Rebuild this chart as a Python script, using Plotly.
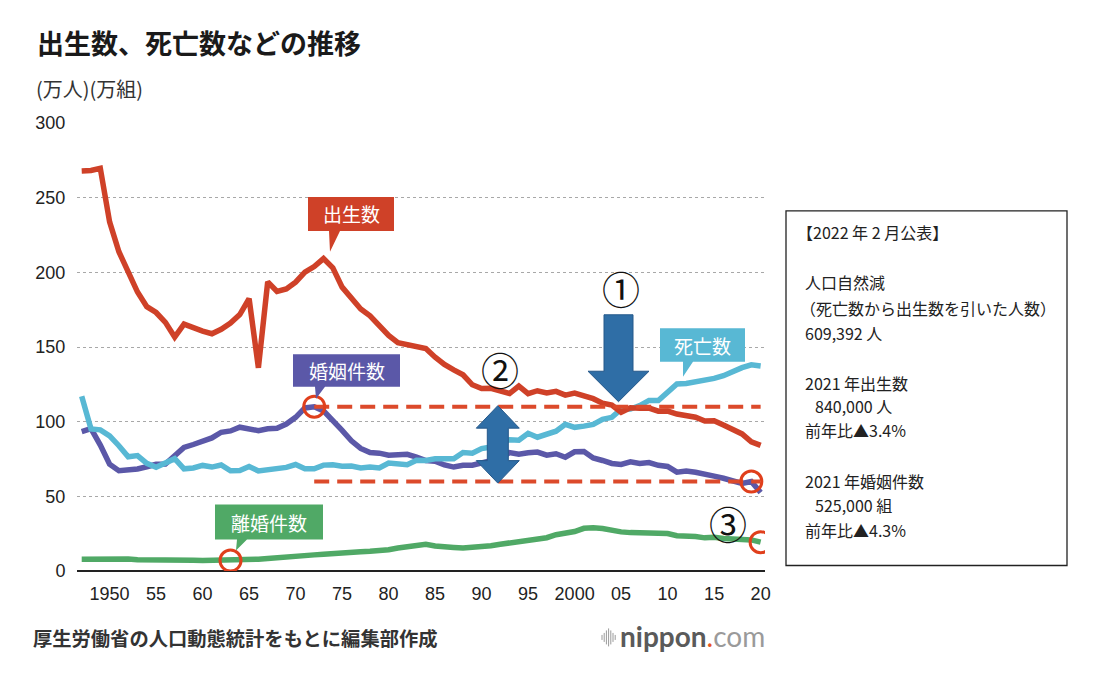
import plotly.graph_objects as go

# ---------------- data (万人 / 万組) ----------------
years = list(range(1947, 2021))

births = [
    267.9, 268.2, 269.7, 233.8, 213.8, 200.5, 186.8, 177.0, 173.1, 166.5,
    156.7, 165.3, 162.6, 160.6, 158.9, 161.9, 166.0, 171.7, 182.4, 136.1,
    193.6, 187.2, 188.9, 193.4, 200.1, 203.9, 209.2, 203.0, 190.1, 183.3,
    175.5, 170.9, 164.3, 157.7, 152.9, 151.5, 150.9, 149.0, 143.2, 138.3,
    134.7, 131.4, 124.7, 122.2, 122.3, 120.9, 118.8, 123.8, 118.7, 120.7,
    119.2, 120.3, 117.8, 119.1, 117.1, 115.4, 112.4, 111.1, 106.3, 109.3,
    109.0, 109.1, 107.0, 107.1, 105.1, 103.7, 103.0, 100.4, 100.6, 97.7,
    94.6, 91.8, 86.5, 84.1,
]
deaths = [
    117.0, 95.1, 94.5, 90.5, 83.9, 76.5, 77.3, 72.1, 69.4, 72.4,
    75.2, 68.4, 69.0, 70.7, 69.6, 71.0, 67.1, 67.3, 70.0, 67.0,
    67.5, 68.6, 69.4, 71.3, 68.5, 68.4, 70.9, 71.1, 70.2, 70.3,
    69.0, 69.6, 69.0, 72.3, 72.1, 71.2, 74.1, 74.0, 75.2, 75.1,
    75.1, 79.3, 78.9, 82.0, 83.0, 85.7, 87.9, 87.6, 92.2, 89.6,
    91.3, 93.6, 98.2, 96.2, 97.0, 98.2, 101.5, 102.9, 108.4, 108.5,
    110.8, 114.2, 114.2, 119.7, 125.3, 125.6, 126.8, 127.3, 129.0, 130.8,
    134.0, 136.2, 138.1, 137.3,
]
marriages = [
    93.4, 95.4, 84.3, 71.5, 67.2, 67.7, 68.3, 69.8, 71.5, 71.6,
    77.4, 82.7, 84.7, 86.6, 89.1, 92.9, 93.8, 96.3, 95.5, 94.0,
    95.3, 95.6, 98.4, 102.9, 109.2, 110.0, 107.2, 100.0, 94.2, 87.2,
    82.1, 79.3, 78.9, 77.5, 77.7, 78.1, 76.3, 74.0, 73.5, 71.0,
    69.6, 70.8, 70.8, 72.2, 74.2, 75.4, 79.3, 78.2, 79.2, 79.6,
    77.6, 78.5, 76.2, 79.8, 80.0, 75.7, 74.0, 72.0, 71.4, 73.1,
    72.0, 72.6, 70.8, 70.0, 66.2, 66.9, 66.1, 64.4, 63.5, 62.1,
    60.7, 58.6, 59.9, 52.6,
]
divorces = [
    7.9, 8.0, 8.3, 8.4, 8.2, 8.0, 7.5, 7.6, 7.5, 7.3,
    7.1, 7.3, 7.2, 7.0, 7.0, 7.1, 7.0, 7.3, 7.7, 7.9,
    8.4, 8.7, 9.1, 9.6, 10.3, 10.8, 11.2, 11.4, 11.9, 12.4,
    12.9, 13.2, 13.5, 14.2, 15.4, 16.3, 17.9, 17.9, 16.7, 16.6,
    15.8, 15.4, 15.8, 15.8, 16.9, 17.9, 18.8, 19.6, 19.9, 20.7,
    22.3, 24.3, 25.1, 26.4, 28.6, 29.0, 28.4, 27.1, 26.2, 25.7,
    25.5, 25.1, 25.3, 25.1, 23.6, 23.5, 23.1, 22.2, 22.6, 21.7,
    21.2, 20.8, 20.8, 19.3,
]

x_tick_vals = [1950, 1955, 1960, 1965, 1970, 1975, 1980, 1985, 1990, 1995,
               2000, 2005, 2010, 2015, 2020]
x_tick_text = ["1950", "55", "60", "65", "70", "75", "80", "85", "90", "95",
               "2000", "05", "10", "15", "20"]
y_tick_vals = [0, 50, 100, 150, 200, 250, 300]
y_tick_text = ["0", "50", "100", "150", "200", "250", "300"]

marriage_circle_years = [1972, 2019]
divorce_circle_years = [1963, 2020]

title_text = "出生数、死亡数などの推移"
unit_text = "(万人)(万組)"
source_text = "厚生労働省の人口動態統計をもとに編集部作成"
box_lines = [
    ("【2022 年 2 月公表】", -8),
    ("人口自然減", 0),
    ("（死亡数から出生数を引いた人数）", -5),
    ("609,392 人", 0),
    ("2021 年出生数", 0),
    ("840,000 人", 10.5),
    ("前年比▲3.4%", 0),
    ("2021 年婚姻件数", 0),
    ("525,000 組", 10.5),
    ("前年比▲4.3%", 0),
]

# ---------------- styles ----------------
RED = "#cf4128"
CYAN = "#58b8d4"
BLUE = "#5b58a8"
GREEN = "#50a966"
DASH_RED = "#dc4a2b"
ARROW = "#2f6ea6"
CJK = "Noto Sans CJK JP"

W, H = 1108, 678
L, R, T, B = 77, 765, 123, 571.5


def px(x):
    return (x - L) / (R - L)


def py(y):
    return (B - y) / (B - T)


fig = go.Figure()

for vals, col in [(divorces, GREEN), (marriages, BLUE), (deaths, CYAN), (births, RED)]:
    fig.add_trace(go.Scatter(x=years, y=vals, mode="lines",
                             line=dict(color=col, width=5.5),
                             hoverinfo="skip", showlegend=False))

# dashed reference lines from marriage peak / recent value
peak_val = max(marriages)
peak_year = years[marriages.index(peak_val)]
recent_val = marriages[years.index(marriage_circle_years[1])]
for val in [peak_val, recent_val]:
    fig.add_trace(go.Scatter(x=[peak_year, years[-1]], y=[val, val], mode="lines",
                             line=dict(color=DASH_RED, width=4, dash="15px,8px"),
                             hoverinfo="skip", showlegend=False))

# highlight circles
fig.add_trace(go.Scatter(
    x=marriage_circle_years + divorce_circle_years,
    y=[marriages[years.index(y)] for y in marriage_circle_years]
      + [divorces[years.index(y)] for y in divorce_circle_years],
    mode="markers",
    marker=dict(symbol="circle-open", size=21, color="#e03f1c", line=dict(width=3, color="#e03f1c")),
    hoverinfo="skip", showlegend=False))

shapes = []
annotations = []


def poly(points, fill, line_color=None, lw=0):
    d = "M " + " L ".join(f"{px(a):.5f},{py(b):.5f}" for a, b in points) + " Z"
    shapes.append(dict(type="path", path=d, xref="paper", yref="paper",
                       fillcolor=fill, line=dict(color=line_color or fill, width=lw),
                       layer="above"))


def callout(x0, x1, y0, y1, b0, b1, tip, color, text):
    poly([(x0, y0), (x1, y0), (x1, y1), (b1, y1), tip, (b0, y1), (x0, y1)], color)
    annotations.append(dict(x=px((x0 + x1) / 2), y=py((y0 + y1) / 2), xref="paper", yref="paper",
                            text=text, showarrow=False, xanchor="center", yanchor="middle",
                            font=dict(family=CJK, size=19, color="white")))


callout(308, 394, 197, 231, 329, 340, (330, 252), RED, "出生数")
callout(293, 400, 354.5, 387, 315, 325, (316, 399), BLUE, "婚姻件数")
callout(660, 745, 328.5, 362, 683, 693, (683, 377), CYAN, "死亡数")
callout(215, 323, 505, 540, 237, 247, (236, 551), GREEN, "離婚件数")

# block arrows
cx = 618.5
poly([(cx - 14.5, 315), (cx + 14.5, 315), (cx + 14.5, 371.5), (cx + 30.5, 371.5), (cx, 402),
      (cx - 30.5, 371.5), (cx - 14.5, 371.5)], ARROW, "#25588a", 1)
cx2 = 497.8
poly([(cx2, 406), (cx2 + 21.5, 428.5), (cx2 + 10.5, 428.5), (cx2 + 10.5, 461),
      (cx2 + 21.5, 461), (cx2, 483.5), (cx2 - 21.5, 461), (cx2 - 10.5, 461),
      (cx2 - 10.5, 428.5), (cx2 - 21.5, 428.5)], ARROW, "#25588a", 1)

# circled numbers
for sym, xx, yy in [("①", 620.5, 287.5), ("②", 499.5, 368.5), ("③", 728, 523)]:
    annotations.append(dict(x=px(xx), y=py(yy), xref="paper", yref="paper", text=sym,
                            showarrow=False, xanchor="center", yanchor="middle",
                            font=dict(family=CJK, size=38, color="#111")))

# info box
shapes.append(dict(type="rect", xref="paper", yref="paper",
                   x0=px(786), x1=px(1067), y0=py(566), y1=py(211),
                   line=dict(color="#222", width=1.3), fillcolor="rgba(0,0,0,0)"))
line_y = [231.7, 281.7, 308.5, 333.3, 383.3, 406.7, 430.5, 481.7, 505.5, 530]
for (txt, dx), yy in zip(box_lines, line_y):
    annotations.append(dict(x=px(802.5 + dx), y=py(yy), xref="paper", yref="paper",
                            text=txt, showarrow=False, xanchor="left", yanchor="middle",
                            font=dict(family=CJK, size=16, color="#222")))

# title, unit, source, logo
annotations.append(dict(x=px(35), y=py(42), xref="paper", yref="paper", text="<b>" + title_text + "</b>",
                        showarrow=False, xanchor="left", yanchor="middle",
                        font=dict(family=CJK, size=27, color="#1a1a1a")))
annotations.append(dict(x=px(34), y=py(88.5), xref="paper", yref="paper", text=unit_text,
                        showarrow=False, xanchor="left", yanchor="middle",
                        font=dict(family=CJK, size=20, color="#333")))
annotations.append(dict(x=px(31), y=py(639), xref="paper", yref="paper", text="<b>" + source_text + "</b>",
                        showarrow=False, xanchor="left", yanchor="middle",
                        font=dict(family=CJK, size=19.3, color="#333")))
annotations.append(dict(x=px(618), y=py(637), xref="paper", yref="paper",
                        text="<b>nippon</b><span style='color:#e8541e'>.</span><span style='color:#9a9a9a'>com</span>",
                        showarrow=False, xanchor="left", yanchor="middle",
                        font=dict(family="Lato", size=28, color="#5a5a5a")))
for i, hh in enumerate([5, 9, 14, 18, 14, 9, 5]):
    xx = 602 + i * 2.2
    shapes.append(dict(type="line", xref="paper", yref="paper",
                       x0=px(xx), x1=px(xx), y0=py(638 - hh / 2), y1=py(638 + hh / 2),
                       line=dict(color="#9a9a9a", width=1)))

fig.update_layout(
    width=W, height=H, autosize=False,
    margin=dict(l=L, r=W - R, t=T, b=H - B, pad=0),
    paper_bgcolor="white", plot_bgcolor="white",
    showlegend=False,
    shapes=shapes, annotations=annotations,
    xaxis=dict(range=[1946.495, 2020.47], tickvals=x_tick_vals, ticktext=x_tick_text,
               showgrid=False, zeroline=False, showline=False,
               ticks="outside", ticklen=6, tickcolor="rgba(0,0,0,0)",
               tickfont=dict(family="Liberation Sans", size=18, color="#222")),
    yaxis=dict(range=[0, 300], tickvals=y_tick_vals, ticktext=y_tick_text,
               showgrid=True, gridcolor="#a8a8a8", gridwidth=1, griddash="dot",
               zeroline=True, zerolinecolor="#222", zerolinewidth=2,
               showline=False, ticks="outside", ticklen=7, tickcolor="rgba(0,0,0,0)",
               tickfont=dict(family="Liberation Sans", size=18, color="#222")),
)

fig.write_html("out.html", config={"displayModeBar": False},
               post_script="document.body.style.margin='0';document.body.style.overflow='hidden';")
